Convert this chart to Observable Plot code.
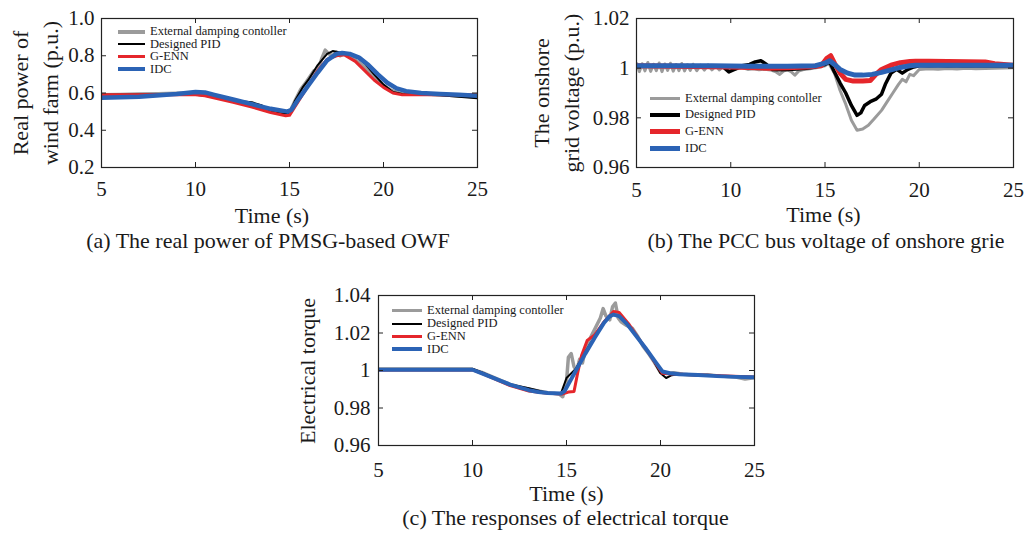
<!DOCTYPE html>
<html><head><meta charset="utf-8">
<script src="https://cdn.jsdelivr.net/npm/d3@7"></script>
<script src="https://cdn.jsdelivr.net/npm/@observablehq/plot@0.6"></script>
<style>
body{margin:0;background:#fff;}
#fig{position:relative;width:1024px;height:535px;font-family:"Liberation Serif","Times New Roman",serif;color:#1a1a1a;overflow:hidden;background:#fff;}
.t{position:absolute;white-space:nowrap;text-align:center;}
.plot{position:absolute;}
.leg{position:absolute;font-size:12.5px;}
.leg .row{display:flex;align-items:center;white-space:nowrap;overflow:visible;}
.leg .row span.tx{line-height:11px;display:inline-block;}
.leg .sw{display:inline-block;}
</style></head><body><div id="fig"></div>
<script>
// ---------- shared ----------
const seriesNames = ["External damping contoller", "Designed PID", "G-ENN", "IDC"];
const seriesColors = ["#9b9b9b", "#000000", "#e5262b", "#2b63b5"];
const xTicks = [5, 10, 15, 20, 25];

// ---------- (a) real power of wind farm ----------
const aTicks = [0.2, 0.4, 0.6, 0.8, 1.0];
const aExtT = [5, 6, 7, 8, 9, 10, 10.5, 11, 12, 13, 13.5, 14, 14.5, 15, 15.3, 15.6, 15.9, 16.1, 16.3, 16.5, 16.7, 16.9, 17.1, 17.3, 17.5, 17.7, 17.9, 18.1, 18.4, 18.8, 19.2, 19.6, 20, 20.4, 20.8, 21.2, 22, 23, 24, 25];
const aExtV = [0.59, 0.592, 0.594, 0.596, 0.598, 0.6, 0.598, 0.585, 0.56, 0.535, 0.52, 0.51, 0.5, 0.495, 0.56, 0.62, 0.66, 0.69, 0.72, 0.72, 0.78, 0.83, 0.81, 0.8, 0.82, 0.8, 0.81, 0.8, 0.785, 0.755, 0.72, 0.68, 0.64, 0.615, 0.6, 0.595, 0.595, 0.59, 0.585, 0.58];
const aPidT = [5, 7, 10, 10.5, 12, 13, 13.5, 14, 14.5, 15, 15.3, 15.7, 16, 16.5, 17, 17.3, 17.8, 18.5, 19, 19.5, 20, 20.5, 21, 22, 23, 24, 25];
const aPidV = [0.59, 0.592, 0.59, 0.585, 0.56, 0.55, 0.535, 0.5, 0.49, 0.49, 0.56, 0.63, 0.67, 0.75, 0.81, 0.825, 0.815, 0.8, 0.76, 0.7, 0.645, 0.605, 0.595, 0.59, 0.588, 0.58, 0.572];
const aEnnT = [5, 7, 10, 10.5, 12, 13, 14, 14.8, 15, 15.5, 16, 16.5, 17, 17.5, 17.9, 18.5, 19, 19.5, 20, 20.5, 21, 22, 23, 25];
const aEnnV = [0.59, 0.59, 0.59, 0.585, 0.55, 0.525, 0.495, 0.478, 0.48, 0.56, 0.64, 0.72, 0.78, 0.8, 0.805, 0.77, 0.72, 0.67, 0.63, 0.6, 0.59, 0.59, 0.59, 0.59];
const aIdcT = [5, 7, 9, 10, 10.5, 11, 12, 13, 14, 14.9, 15.1, 15.5, 16, 16.5, 17, 17.5, 17.8, 18.2, 18.7, 19.2, 19.7, 20.2, 20.7, 21.2, 22, 23, 24, 25];
const aIdcV = [0.575, 0.58, 0.595, 0.605, 0.603, 0.59, 0.565, 0.54, 0.515, 0.5, 0.51, 0.57, 0.64, 0.71, 0.775, 0.81, 0.815, 0.81, 0.79, 0.75, 0.7, 0.655, 0.625, 0.61, 0.6, 0.595, 0.59, 0.585];

// ---------- (b) onshore grid voltage ----------
const bTicks = [0.96, 0.98, 1, 1.02];
const bExtT = [5, 5.15, 5.3, 5.45, 5.6, 5.75, 5.9, 6.05, 6.2, 6.35, 6.5, 6.65, 6.8, 6.95, 7.1, 7.25, 7.4, 7.55, 7.7, 7.85, 8, 8.2, 8.4, 8.6, 8.8, 9, 9.2, 9.4, 9.6, 9.8, 10, 10.3, 10.6, 10.9, 11.2, 11.5, 11.8, 12.1, 12.4, 12.6, 12.8, 13.0, 13.2, 13.4, 13.6, 13.9, 14.2, 14.6, 15, 15.2, 15.5, 15.8, 16.1, 16.4, 16.7, 17, 17.3, 17.6, 18, 18.3, 18.6, 18.9, 19.1, 19.3, 19.5, 19.7, 20, 20.5, 21, 21.5, 22, 22.5, 23, 23.5, 24, 24.5, 25];
const bExtV = [1.0022, 0.9986, 1.0018, 0.9989, 1.0023, 0.9987, 1.0016, 0.999, 1.0021, 0.9986, 1.0017, 0.9991, 1.002, 0.9988, 1.0015, 0.999, 1.0019, 0.9989, 1.0014, 0.9991, 1.0016, 0.999, 1.0012, 0.9992, 1.0013, 0.9993, 1.001, 0.9993, 1.0008, 0.9995, 1.0005, 0.9996, 1.0002, 0.9995, 0.9998, 0.9994, 0.9996, 0.9993, 0.9985, 0.9975, 0.9988, 0.9993, 0.9986, 0.9972, 0.9988, 0.9995, 0.9998, 1.0003, 1.001, 1.002, 0.998, 0.991, 0.9855, 0.979, 0.975, 0.9755, 0.977, 0.9795, 0.983, 0.9865, 0.99, 0.9935, 0.9955, 0.9945, 0.9975, 0.997, 0.9995, 0.9998, 0.9996, 0.9999, 0.9997, 1.0, 0.9998, 0.9999, 1.0, 1.0001, 1.0002];
const bPidT = [5, 6, 7, 8, 9, 9.6, 9.9, 10.2, 10.6, 11, 11.3, 11.6, 11.9, 12.2, 12.6, 13, 13.5, 14, 14.5, 15, 15.25, 15.5, 15.8, 16.1, 16.4, 16.7, 16.9, 17.1, 17.4, 17.7, 18, 18.2, 18.5, 18.8, 19.1, 19.4, 19.7, 20, 21, 22, 23, 24, 25];
const bPidV = [1.001, 1.001, 1.001, 1.0008, 1.0008, 1.0005, 0.9985, 0.9995, 1.001, 1.0015, 1.0025, 1.003, 1.0015, 0.9995, 0.9994, 0.9995, 0.9997, 1.0, 1.0005, 1.0015, 1.0025, 0.9985, 0.994, 0.99, 0.985, 0.981, 0.982, 0.985, 0.9865, 0.9875, 0.9895, 0.9935, 0.998, 0.9995, 0.998, 0.9995, 1.0005, 1.001, 1.001, 1.001, 1.001, 1.001, 1.001];
const bEnnT = [5, 7, 9, 10, 11, 12, 13, 14, 14.8, 15.1, 15.3, 15.5, 15.8, 16.1, 16.5, 17, 17.4, 17.7, 18, 18.5, 19, 19.5, 19.8, 20.5, 21.5, 22.5, 23.5, 24, 25];
const bEnnV = [1.001, 1.0008, 1.0006, 1.0005, 1.0003, 1.0, 1.0002, 1.0005, 1.001, 1.004, 1.005, 1.002, 0.998, 0.9955, 0.9948, 0.9948, 0.995, 0.9975, 0.9995, 1.0012, 1.0022, 1.0027, 1.0028, 1.0028, 1.0027, 1.0026, 1.0025, 1.0018, 1.0012];
const bIdcT = [5, 7, 9, 11, 13, 14.5, 15, 15.25, 15.5, 15.8, 16.2, 16.6, 17, 17.5, 18, 18.5, 19, 19.5, 19.8, 21, 23, 25];
const bIdcV = [1.001, 1.001, 1.001, 1.0008, 1.0008, 1.001, 1.002, 1.003, 1.0015, 0.9995, 0.998, 0.9972, 0.9972, 0.9975, 0.9983, 0.9993, 1.0003, 1.001, 1.0012, 1.0012, 1.0012, 1.0012];

// ---------- (c) electrical torque ----------
const cTicks = [0.96, 0.98, 1, 1.02, 1.04];
const cExtT = [5, 8, 10, 10.5, 12, 13, 14, 14.6, 14.8, 15.0, 15.1, 15.25, 15.4, 15.55, 15.7, 15.85, 16, 16.2, 16.5, 16.8, 16.95, 17.1, 17.3, 17.45, 17.6, 17.75, 17.9, 18.2, 18.5, 18.8, 19.1, 19.4, 19.7, 20, 20.3, 20.7, 21.2, 21.8, 22.5, 23.2, 24, 24.5, 25];
const cExtV = [1.0005, 1.0005, 1.0005, 0.999, 0.9925, 0.99, 0.9882, 0.9875, 0.986, 0.994, 1.007, 1.009, 1.002, 1.0, 1.006, 1.004, 1.011, 1.016, 1.022, 1.028, 1.033, 1.029, 1.027, 1.034, 1.036, 1.028, 1.026, 1.024, 1.0225, 1.018, 1.0125, 1.0085, 1.004, 0.999, 0.9985, 0.9988, 0.998, 0.9975, 0.9978, 0.997, 0.9965, 0.9955, 0.9962];
const cPidT = [5, 10, 10.5, 12, 13, 14, 14.7, 15, 15.5, 16, 16.5, 17, 17.5, 18, 18.5, 19, 19.5, 20, 20.3, 20.6, 21, 22, 25];
const cPidV = [1.001, 1.001, 0.999, 0.9925, 0.9905, 0.988, 0.9877, 0.996, 1.001, 1.01, 1.018, 1.026, 1.03, 1.028, 1.021, 1.0145, 1.0075, 0.9985, 0.996, 0.9975, 0.998, 0.9975, 0.9965];
const cEnnT = [5, 10, 10.5, 12, 13, 14, 14.8, 15.1, 15.4, 15.6, 15.8, 16.1, 16.5, 17, 17.5, 17.8, 18.3, 18.8, 19.3, 19.8, 20.1, 20.4, 21, 25];
const cEnnV = [1.0003, 1.0003, 0.9985, 0.992, 0.989, 0.9878, 0.9875, 0.9885, 0.9888, 0.999, 1.008, 1.016, 1.019, 1.026, 1.0315, 1.031, 1.025, 1.0175, 1.0105, 1.003, 0.9985, 0.9982, 0.998, 0.9965];
const cIdcT = [5, 7, 9, 10, 10.5, 11, 11.5, 12, 12.5, 13, 13.5, 14, 14.7, 14.9, 15.5, 16, 16.5, 17, 17.3, 17.5, 17.8, 18.2, 18.7, 19.2, 19.7, 20.1, 20.5, 21, 22, 23, 24, 25];
const cIdcV = [1.0004, 1.0004, 1.0004, 1.0004, 0.9985, 0.9965, 0.9945, 0.9925, 0.991, 0.9895, 0.9885, 0.988, 0.9877, 0.989, 1.0, 1.009, 1.0175, 1.0255, 1.029, 1.0298, 1.029, 1.025, 1.0185, 1.012, 1.005, 0.9995, 0.9985, 0.998, 0.9976, 0.997, 0.9966, 0.9964];

// ---------- helpers ----------
const fig = document.getElementById("fig");
const zip = (ts, vs, s) => ts.map((t, i) => ({t, v: vs[i], s}));

function chart({series, widths, yDomain, yTicks, yFormat, W, H, ml, mr, mt, mb, xPad, yPad}) {
  const fw = W - ml - mr, fh = H - mt - mb, tl = 5;
  const marks = [];
  series.forEach((d, i) => marks.push(Plot.line(d, {x: "t", y: "v", stroke: seriesColors[i], strokeWidth: widths[i], strokeLinejoin: "round", strokeLinecap: "butt", clip: true})));
  marks.push(Plot.frame({stroke: "#222", strokeWidth: 1.2}));
  marks.push(Plot.tickY(yTicks, {y: d => d, insetRight: fw - tl, stroke: "#222"}));
  marks.push(Plot.tickY(yTicks, {y: d => d, insetLeft: fw - tl, stroke: "#222"}));
  marks.push(Plot.tickX(xTicks, {x: d => d, insetTop: fh - tl, stroke: "#222"}));
  marks.push(Plot.tickX(xTicks, {x: d => d, insetBottom: fh - tl, stroke: "#222"}));
  marks.push(Plot.axisY(yTicks, {tickSize: 0, tickPadding: yPad, tickFormat: yFormat, label: null}));
  marks.push(Plot.axisX(xTicks, {tickSize: 0, tickPadding: xPad, tickFormat: d => String(d), label: null}));
  return Plot.plot({
    width: W, height: H, marginLeft: ml, marginRight: mr, marginTop: mt, marginBottom: mb,
    x: {domain: [5, 25]}, y: {domain: yDomain},
    style: {fontFamily: '"Liberation Serif","Times New Roman",serif', fontSize: "21px", color: "#1a1a1a", background: "transparent", overflow: "visible"},
    marks
  });
}
function place(el, left, top) {
  el.classList.add("plot");
  el.style.left = left + "px"; el.style.top = top + "px";
  fig.appendChild(el);
}
function baseOff(fs, lh) { return (lh - 1.107 * fs) / 2 + 0.891 * fs; }
function htext(txt, cx, baseline, fs) {
  const lh = 30, d = document.createElement("div");
  d.className = "t"; d.textContent = txt;
  d.style.cssText += `width:600px;left:${cx - 300}px;top:${baseline - baseOff(fs, lh)}px;font-size:${fs}px;line-height:${lh}px;`;
  fig.appendChild(d);
}
function vtext(lines, firstBaselineX, cy, fs, lh) {
  const d = document.createElement("div");
  d.className = "t";
  d.innerHTML = lines.map(s => s.replace(/&/g, "&amp;").replace(/</g, "&lt;")).join("<br>");
  const h = lines.length * lh, w = 300;
  const x0 = firstBaselineX - baseOff(fs, lh);
  const cx = x0 + h / 2;
  d.style.cssText += `width:${w}px;height:${h}px;left:${cx - w / 2}px;top:${cy - h / 2}px;font-size:${fs}px;line-height:${lh}px;transform:rotate(-90deg);`;
  fig.appendChild(d);
}
function legend(x0, textX, yFirst, rowH, widths) {
  const box = document.createElement("div");
  box.className = "leg";
  box.style.left = x0 + "px"; box.style.top = (yFirst - rowH / 2) + "px";
  seriesNames.forEach((n, i) => {
    const r = document.createElement("div");
    r.className = "row"; r.style.height = rowH + "px";
    const sw = document.createElement("span");
    sw.className = "sw";
    sw.style.cssText = `width:${textX - x0 - 5}px;height:${widths[i]}px;background:${seriesColors[i]};margin-right:5px;`;
    const tx = document.createElement("span");
    tx.className = "tx";
    tx.textContent = n;
    r.appendChild(sw); r.appendChild(tx);
    box.appendChild(r);
  });
  fig.appendChild(box);
}

// ---------- chart (a) ----------
const wA = [3.5, 2, 3, 4.5];
place(chart({
  series: [zip(aExtT, aExtV, 0), zip(aPidT, aPidV, 1), zip(aEnnT, aEnnV, 2), zip(aIdcT, aIdcV, 3)],
  widths: wA, yDomain: [0.2, 1.0], yTicks: aTicks, yFormat: d3.format(".1f"),
  W: 500, H: 205, ml: 101, mr: 23, mt: 18, mb: 38, xPad: 14, yPad: 7
}), 0, 0);
legend(118, 150, 32, 12.4, wA);
vtext(["Real power of", "wind farm (p.u.)"], 28.3, 93, 22, 30);
htext("Time (s)", 272, 223, 22);
htext("(a) The real power of PMSG-based OWF", 268, 248, 22);

// ---------- chart (b) ----------
const wB = [3, 3.5, 5, 5];
place(chart({
  series: [zip(bExtT, bExtV, 0), zip(bPidT, bPidV, 1), zip(bEnnT, bEnnV, 2), zip(bIdcT, bIdcV, 3)],
  widths: wB, yDomain: [0.96, 1.02], yTicks: bTicks, yFormat: d => String(d),
  W: 512, H: 205, ml: 124, mr: 11, mt: 18, mb: 38, xPad: 15, yPad: 7
}), 512, 0);
legend(650, 685, 98.3, 16.7, wB);
vtext(["The onshore", "grid voltage (p.u.)"], 549, 93, 22, 30);
htext("Time (s)", 823.5, 222.7, 22);
htext("(b) The PCC bus voltage of onshore grie", 826, 248, 22);

// ---------- chart (c) ----------
const wC = [3.5, 2, 3, 4];
place(chart({
  series: [zip(cExtT, cExtV, 0), zip(cPidT, cPidV, 1), zip(cEnnT, cEnnV, 2), zip(cIdcT, cIdcV, 3)],
  widths: wC, yDomain: [0.96, 1.04], yTicks: cTicks, yFormat: d => String(d),
  W: 500, H: 205, ml: 98, mr: 26, mt: 18, mb: 37, xPad: 17, yPad: 8
}), 280, 277);
legend(392, 427, 310.7, 12.9, wC);
vtext(["Electrical torque"], 315, 371, 22, 30);
htext("Time (s)", 566.5, 501.7, 22);
htext("(c) The responses of electrical torque", 565.5, 525, 22);
</script></body></html>
